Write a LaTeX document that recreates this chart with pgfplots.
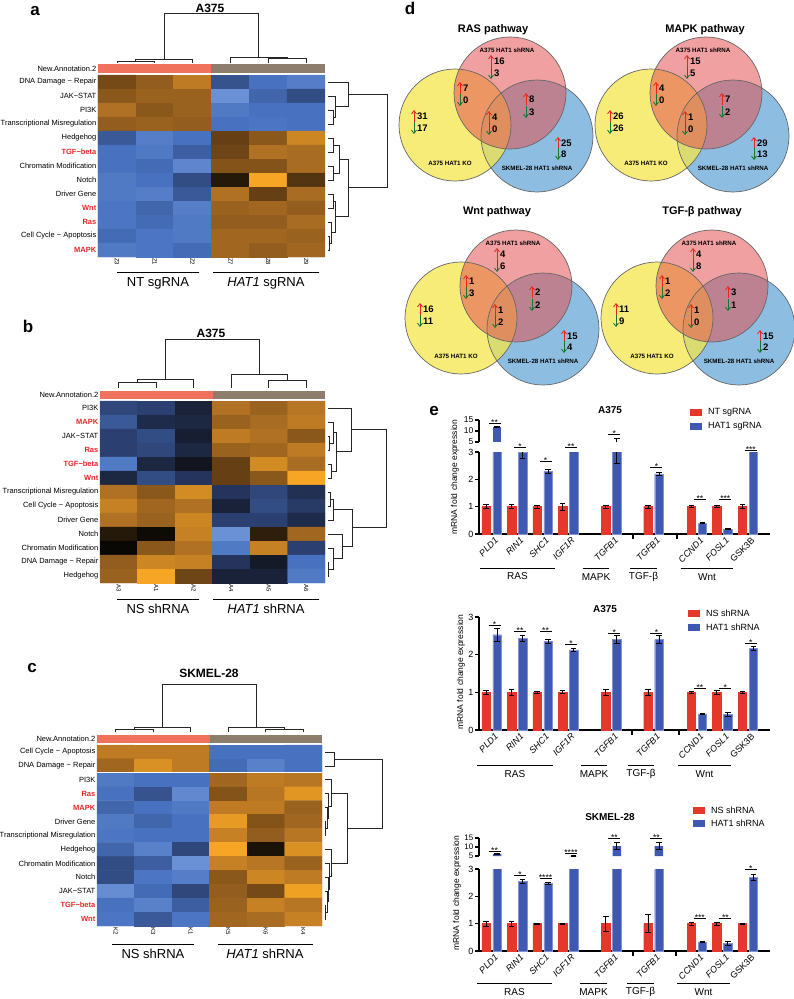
\documentclass[border=0pt]{standalone}
\usepackage{fontspec}
\setmainfont{Liberation Sans}
\usepackage{pgfplots}
\usepackage{pgfplotstable}
\pgfplotsset{compat=1.18}
\usetikzlibrary{arrows.meta}

\definecolor{annL}{RGB}{241,114,92}
\definecolor{annR}{RGB}{141,125,108}
\definecolor{lblred}{RGB}{232,38,38}
\definecolor{barR}{RGB}{229,56,42}
\definecolor{barB}{RGB}{63,89,178}
\definecolor{vY}{RGB}{245,229,75}
\definecolor{vR}{RGB}{228,82,82}
\definecolor{vB}{RGB}{141,190,225}
\definecolor{upR}{RGB}{232,40,30}
\definecolor{dnG}{RGB}{22,118,48}

\newcommand\fs[1]{\fontsize{#1}{#1}\selectfont}
\newcommand\rl[1]{\textcolor{lblred}{\bfseries #1}}
\tikzset{dg/.style={line width=0.7pt, black!85}}
% dendrogram joins (column: x1 h1 x2 h2 h ; row: y1 d1 y2 d2 d)
\newcommand\cj[5]{\draw[dg] (axis cs:#1,#2) |- (axis cs:#3,#5) -- (axis cs:#3,#4);}
\newcommand\rj[5]{\draw[dg] (axis cs:#2,#1) -| (axis cs:#5,#3) -- (axis cs:#4,#3);}
\newcommand\annot[1]{%
  \fill[annL] (axis cs:-0.5,0.64) rectangle (axis cs:2.5,#1);
  \fill[annR] (axis cs:2.5,0.64) rectangle (axis cs:5.5,#1);
  \node[anchor=east, font=\fs{7.5}, inner sep=1.5pt] at (axis cs:-0.5,0.95) {New.Annotation.2};}
% venn pieces
\tikzset{varr/.style={line width=0.85pt, -{Straight Barb[length=3.2pt,width=5pt,line width=0.85pt]}}}
\newcommand\vp[5]{%
  \draw[upR, varr] ([yshift=-6pt]axis cs:#1,-#2) -- ([yshift=6pt]axis cs:#1,-#2);
  \node[anchor=west, inner sep=0pt, font=\bfseries\fs{9.5}] at ([xshift=3pt]axis cs:#1,-#2) {#4};
  \draw[dnG, varr] ([yshift=6pt]axis cs:#1,-#3) -- ([yshift=-6pt]axis cs:#1,-#3);
  \node[anchor=west, inner sep=0pt, font=\bfseries\fs{9.5}] at ([xshift=3pt]axis cs:#1,-#3) {#5};}
\newcommand\venncore{%
  \fill[vB] (axis cs:537,-136) circle[radius=56];
  \fill[vY, fill opacity=0.75] (axis cs:455,-125) circle[radius=56];
  \fill[vR, fill opacity=0.55] (axis cs:510,-93) circle[radius=56];
  \draw[black!60, line width=0.7pt] (axis cs:537,-136) circle[radius=56];
  \draw[black!60, line width=0.7pt] (axis cs:455,-125) circle[radius=56];
  \draw[black!60, line width=0.7pt] (axis cs:510,-93) circle[radius=56];
  \node[font=\bfseries\fs{6.2}] at (axis cs:507,-50) {A375 HAT1 shRNA};
  \node[font=\bfseries\fs{6.2}] at (axis cs:450,-163) {A375 HAT1 KO};
  \node[font=\bfseries\fs{6.2}] at (axis cs:537,-168) {SKMEL-28 HAT1 shRNA};}
% significance bar
\newcommand\sg[3]{\draw[line width=0.75pt] ([xshift=-3pt]axis cs:#1,#2) -- ([xshift=9pt]axis cs:#1,#2) node[midway, above, yshift=-3.5pt, inner sep=1pt, font=\fs{8.5}] {#3};}
\newcommand\lgd[4]{\fill[#1] (#2,{-#3+3}) rectangle ({#2+12},{-#3-3.5}); \node[anchor=west, font=\fs{9}, inner sep=0pt] at ({#2+18},-#3) {#4};}
\newcommand\gl[5]{\draw[line width=0.9pt] (#1,-#3) -- (#2,-#3); \node[font=\fs{10}] at ({(#1+#2)/2},-#4) {#5};}

\pgfplotsset{
  hm/.style={
    scale only axis, xmin=-0.5, xmax=5.5, ymin=-12.5, ymax=0.5,
    clip=false, axis line style={draw=none}, tick style={draw=none},
    colormap={bbo}{rgb255=(115,152,218) rgb255=(72,114,192) rgb255=(36,52,92) rgb255=(10,8,5) rgb255=(102,64,20) rgb255=(176,113,36) rgb255=(246,166,36)},
    point meta min=-3, point meta max=3,
    xtick={0,...,5}, ytick={-12,...,0},
    xticklabel style={rotate=-90, anchor=west, font=\fs{6}, inner sep=1pt},
    yticklabel style={font=\fs{7.5}, inner sep=1.5pt},
    anchor=south west,
  },
  vn/.style={x=1pt, y=1pt, xmin=395, xmax=600, ymin=-200, ymax=0,
    hide axis, clip=false, anchor=north west},
  eb/.style={
    scale only axis, width=291pt, xmin=-0.49, xmax=10.92, anchor=south west,
    ybar, bar width=8.5pt, clip mode=individual,
    axis y line*=left, axis line style={line width=1.2pt},
    tick align=outside, major tick length=4pt,
    y tick style={line width=1.2pt, black},
    yticklabel style={font=\fs{9}, inner sep=1.5pt},
    /pgf/number format/assume math mode=true,
    error bars/y dir=both, error bars/y explicit,
    error bars/error bar style={line width=0.8pt, draw=black},
    error bars/error mark options={rotate=90, mark size=2.8pt, line width=0.8pt, draw=black},
  },
  eblow/.style={eb, axis x line*=bottom, ymin=0, ymax=3, ytick={0,1,2,3},
    xtick={0,1,2,3,4.7,6.35,8.05,9.05,10.05},
    xticklabels={\textit{PLD1},\textit{RIN1},\textit{SHC1},\textit{IGF1R},\textit{TGFB1},\textit{TGFB1},\textit{CCND1},\textit{FOSL1},GSK3B},
    x tick style={draw=none},
    xticklabel style={rotate=45, anchor=north east, font=\fs{9}, inner sep=1pt, xshift=4pt},
  },
  ebup/.style={eb, axis x line=none, ymin=5, ymax=15, ytick={5,10,15},
    yticklabel style={font=\fs{8.5}, inner sep=1.5pt}},
}

\pgfplotstableread{
x nt nte ht hte
0 1 0.08 11.8 0.3
1 1 0.07 3.0 0.22
2 1 0.05 2.3 0.07
3 1 0.13 4.2 0.3
4.7 1 0.05 4.7 2.1
6.35 1 0.06 2.2 0.05
8.05 1 0.03 0.40 0.02
9.05 1 0.03 0.18 0.02
10.05 1 0.07 4.2 0.2
}\eA
\pgfplotstableread{
x nt nte ht hte
0 1 0.05 2.53 0.17
1 1 0.07 2.43 0.07
2 1 0.03 2.35 0.06
3 1 0.04 2.13 0.04
4.7 1 0.07 2.40 0.10
6.35 1 0.07 2.40 0.10
8.05 1 0.02 0.43 0.01
9.05 1 0.05 0.42 0.06
10.05 1 0.02 2.17 0.05
}\eB
\pgfplotstableread{
x nt nte ht hte
0 1 0.10 6.2 0.2
1 1 0.10 2.55 0.07
2 1 0.02 2.48 0.03
3 1 0.02 5.0 0.1
4.7 1 0.27 10.5 1.8
6.35 1 0.33 10.5 2.0
8.05 1 0.05 0.33 0.03
9.05 1 0.05 0.28 0.08
10.05 1 0.02 2.70 0.12
}\eC

\begin{document}
\begin{tikzpicture}[x=1pt, y=1pt]
\path[use as bounding box] (0,0) rectangle (793,-999);

% panel letters
\node[font=\bfseries\fs{17}] at (35,-11) {a};
\node[font=\bfseries\fs{17}] at (28,-326) {b};
\node[font=\bfseries\fs{17}] at (32,-668) {c};
\node[font=\bfseries\fs{17}] at (410,-8) {d};
\node[font=\bfseries\fs{17}] at (434,-411) {e};

% ---------- a ----------
\node[font=\bfseries\fs{12}] at (210,-8) {A375};
\begin{axis}[hm, at={(98pt,-257pt)}, width=227pt, height=182pt,
  xticklabels={Z3,Z1,Z2,Z7,Z8,Z9},
  yticklabels={\rl{MAPK},Cell Cycle − Apoptosis,\rl{Ras},\rl{Wnt},Driver Gene,Notch,Chromatin Modification,\rl{TGF−beta},Hedgehog,Transcriptional Misregulation,PI3K,JAK−STAT,DNA Damage − Repair}]
\addplot[matrix plot*, mesh/cols=6, point meta=explicit] coordinates {
(0,0)[1.2] (1,0)[1.6] (2,0)[2.2] (3,0)[-1.5] (4,0)[-2.0] (5,0)[-2.3]
(0,-1)[1.5] (1,-1)[1.7] (2,-1)[1.7] (3,-1)[-2.8] (4,-1)[-1.8] (5,-1)[-1.4]
(0,-2)[2.0] (1,-2)[1.5] (2,-2)[1.7] (3,-2)[-2.2] (4,-2)[-2.0] (5,-2)[-2.0]
(0,-3)[1.6] (1,-3)[1.7] (2,-3)[1.6] (3,-3)[-2.0] (4,-3)[-2.1] (5,-3)[-2.0]
(0,-4)[-1.6] (1,-4)[-2.3] (2,-4)[-2.0] (3,-4)[1.0] (4,-4)[1.5] (5,-4)[2.4]
(0,-5)[-2.0] (1,-5)[-2.2] (2,-5)[-1.7] (3,-5)[1.1] (4,-5)[2.0] (5,-5)[1.9]
(0,-6)[-2.0] (1,-6)[-1.9] (2,-6)[-2.5] (3,-6)[1.4] (4,-6)[1.4] (5,-6)[1.9]
(0,-7)[-2.2] (1,-7)[-2.0] (2,-7)[-1.4] (3,-7)[0.3] (4,-7)[3.0] (5,-7)[0.8]
(0,-8)[-2.2] (1,-8)[-2.3] (2,-8)[-1.6] (3,-8)[2.0] (4,-8)[1.0] (5,-8)[1.9]
(0,-9)[-2.1] (1,-9)[-1.8] (2,-9)[-2.3] (3,-9)[1.7] (4,-9)[1.8] (5,-9)[1.6]
(0,-10)[-2.1] (1,-10)[-1.9] (2,-10)[-2.2] (3,-10)[1.6] (4,-10)[1.6] (5,-10)[1.9]
(0,-11)[-1.9] (1,-11)[-2.1] (2,-11)[-2.2] (3,-11)[1.8] (4,-11)[1.8] (5,-11)[1.7]
(0,-12)[-2.2] (1,-12)[-2.1] (2,-12)[-1.9] (3,-12)[1.8] (4,-12)[1.6] (5,-12)[1.8]
};
\annot{1.29}
\cj{0}{1.33}{1}{1.33}{1.5}
\cj{0.5}{1.5}{2}{1.33}{1.64}
\cj{4}{1.33}{5}{1.33}{1.71}
\cj{3}{1.33}{4.5}{1.71}{1.79}
\cj{1.25}{1.64}{3.75}{1.79}{4.93}
\rj{-2}{5.58}{-3}{5.58}{5.72}
\rj{-1}{5.58}{-2.5}{5.72}{5.77}
\rj{0}{5.58}{-1.75}{5.77}{6.11}
\rj{-4}{5.58}{-5}{5.58}{5.72}
\rj{-6}{5.58}{-7}{5.58}{5.72}
\rj{-4.5}{5.72}{-6.5}{5.72}{5.88}
\rj{-8}{5.58}{-9}{5.58}{5.72}
\rj{-11}{5.58}{-12}{5.58}{5.62}
\rj{-10}{5.58}{-11.5}{5.62}{5.66}
\rj{-8.5}{5.72}{-10.75}{5.66}{5.77}
\rj{-5.5}{5.88}{-9.625}{5.77}{6.11}
\rj{-0.875}{6.11}{-7.56}{6.11}{7.15}
\end{axis}
\draw[line width=0.8pt] (117,-272) -- (199,-272) (213,-272) -- (319,-272);
\node[font=\fs{13}] at (158,-283) {NT sgRNA};
\node[font=\fs{13}] at (266,-283) {\textit{HAT1} sgRNA};

% ---------- b ----------
\node[font=\bfseries\fs{12}] at (211,-333) {A375};
\begin{axis}[hm, at={(100pt,-583pt)}, width=225pt, height=182pt,
  xticklabels={A3,A1,A2,A4,A5,A6},
  yticklabels={Hedgehog,DNA Damage − Repair,Chromatin Modification,Notch,Driver Gene,Cell Cycle − Apoptosis,Transcriptional Misregulation,\rl{Wnt},\rl{TGF−beta},\rl{Ras},JAK−STAT,\rl{MAPK},PI3K}]
\addplot[matrix plot*, mesh/cols=6, point meta=explicit] coordinates {
(0,0)[-1.3] (1,0)[-1.2] (2,0)[-0.6] (3,0)[2.0] (4,0)[1.7] (5,0)[2.1]
(0,-1)[-1.6] (1,-1)[-0.8] (2,-1)[-0.7] (3,-1)[1.7] (4,-1)[1.9] (5,-1)[2.2]
(0,-2)[-1.2] (1,-2)[-1.4] (2,-2)[-0.5] (3,-2)[2.2] (4,-2)[2.0] (5,-2)[1.5]
(0,-3)[-1.2] (1,-3)[-1.3] (2,-3)[-0.7] (3,-3)[1.7] (4,-3)[1.8] (5,-3)[2.2]
(0,-4)[-2.2] (1,-4)[-0.7] (2,-4)[-0.3] (3,-4)[1.0] (4,-4)[2.5] (5,-4)[1.9]
(0,-5)[-0.7] (1,-5)[-1.4] (2,-5)[-1.0] (3,-5)[1.0] (4,-5)[1.5] (5,-5)[3.0]
(0,-6)[2.0] (1,-6)[1.5] (2,-6)[2.5] (3,-6)[-1.0] (4,-6)[-1.3] (5,-6)[-0.9]
(0,-7)[2.3] (1,-7)[1.8] (2,-7)[2.0] (3,-7)[-0.6] (4,-7)[-1.4] (5,-7)[-1.1]
(0,-8)[2.0] (1,-8)[1.7] (2,-8)[2.4] (3,-8)[-1.2] (4,-8)[-1.2] (5,-8)[-0.8]
(0,-9)[0.3] (1,-9)[0.05] (2,-9)[2.3] (3,-9)[-2.8] (4,-9)[0.4] (5,-9)[1.8]
(0,-10)[0.0] (1,-10)[1.5] (2,-10)[2.0] (3,-10)[-2.2] (4,-10)[2.3] (5,-10)[-1.2]
(0,-11)[1.6] (1,-11)[2.4] (2,-11)[2.3] (3,-11)[-1.0] (4,-11)[-0.4] (5,-11)[-2.0]
(0,-12)[1.7] (1,-12)[3.0] (2,-12)[1.1] (3,-12)[-0.6] (4,-12)[-0.6] (5,-12)[-2.2]
};
\annot{1.21}
\cj{0}{1.43}{1}{1.43}{1.86}
\cj{0.5}{1.86}{2}{1.43}{2.07}
\cj{4}{1.43}{5}{1.43}{2.0}
\cj{3}{1.43}{4.5}{2.0}{2.43}
\cj{1.25}{2.07}{3.75}{2.43}{4.93}
\rj{-2}{5.58}{-3}{5.58}{5.62}
\rj{-1}{5.58}{-2.5}{5.62}{5.72}
\rj{-4}{5.58}{-5}{5.58}{5.66}
\rj{-1.75}{5.72}{-4.5}{5.66}{5.80}
\rj{0}{5.58}{-3.125}{5.80}{6.2}
\rj{-6}{5.58}{-7}{5.58}{5.65}
\rj{-6.5}{5.65}{-8}{5.58}{5.72}
\rj{-11}{5.58}{-12}{5.58}{5.6}
\rj{-10}{5.58}{-11.5}{5.6}{5.72}
\rj{-9}{5.58}{-10.75}{5.72}{5.95}
\rj{-7.25}{5.72}{-9.875}{5.95}{6.22}
\rj{-1.56}{6.2}{-8.56}{6.22}{7.13}
\end{axis}
\draw[line width=0.8pt] (117,-599) -- (199,-599) (213,-599) -- (319,-599);
\node[font=\fs{13}] at (158,-609) {NS shRNA};
\node[font=\fs{13}] at (266,-609) {\textit{HAT1} shRNA};

% ---------- c ----------
\node[font=\bfseries\fs{12}] at (209,-673) {SKMEL-28};
\begin{axis}[hm, at={(97pt,-926pt)}, width=225pt, height=181pt,
  xticklabels={K2,K3,K1,K5,K6,K4},
  yticklabels={\rl{Wnt},\rl{TGF−beta},JAK−STAT,Notch,Chromatin Modification,Hedgehog,Transcriptional Misregulation,Driver Gene,\rl{MAPK},\rl{Ras},PI3K,DNA Damage − Repair,Cell Cycle − Apoptosis}]
\addplot[matrix plot*, mesh/cols=6, point meta=explicit] coordinates {
(0,0)[2.2] (1,0)[2.2] (2,0)[2.2] (3,0)[-2.0] (4,0)[-2.0] (5,0)[-2.0]
(0,-1)[1.8] (1,-1)[2.6] (2,-1)[2.2] (3,-1)[-1.9] (4,-1)[-2.4] (5,-1)[-2.0]
(0,-2)[-2.2] (1,-2)[-2.0] (2,-2)[-2.0] (3,-2)[1.8] (4,-2)[2.2] (5,-2)[2.1]
(0,-3)[-2.0] (1,-3)[-1.5] (2,-3)[-2.6] (3,-3)[1.4] (4,-3)[2.1] (5,-3)[2.7]
(0,-4)[-1.8] (1,-4)[-2.0] (2,-4)[-2.2] (3,-4)[2.2] (4,-4)[2.2] (5,-4)[1.7]
(0,-5)[-2.2] (1,-5)[-1.8] (2,-5)[-2.0] (3,-5)[2.8] (4,-5)[1.4] (5,-5)[1.8]
(0,-6)[-2.1] (1,-6)[-2.0] (2,-6)[-2.0] (3,-6)[2.3] (4,-6)[1.6] (5,-6)[2.1]
(0,-7)[-1.8] (1,-7)[-2.4] (2,-7)[-1.3] (3,-7)[3.0] (4,-7)[0.2] (5,-7)[2.6]
(0,-8)[-1.4] (1,-8)[-1.7] (2,-8)[-2.8] (3,-8)[2.3] (4,-8)[2.1] (5,-8)[1.7]
(0,-9)[-1.4] (1,-9)[-2.1] (2,-9)[-2.3] (3,-9)[1.5] (4,-9)[2.4] (5,-9)[2.2]
(0,-10)[-2.7] (1,-10)[-1.9] (2,-10)[-1.3] (3,-10)[1.6] (4,-10)[1.2] (5,-10)[2.9]
(0,-11)[-2.0] (1,-11)[-2.4] (2,-11)[-1.7] (3,-11)[1.7] (4,-11)[2.3] (5,-11)[2.1]
(0,-12)[-2.1] (1,-12)[-1.6] (2,-12)[-2.1] (3,-12)[1.8] (4,-12)[1.9] (5,-12)[2.3]
};
\draw[white, line width=1.2pt] (axis cs:-0.5,-1.5) -- (axis cs:5.5,-1.5);
\annot{1.21}
\cj{0}{1.43}{1}{1.43}{1.64}
\cj{0.5}{1.64}{2}{1.43}{1.79}
\cj{4}{1.43}{5}{1.43}{1.64}
\cj{3}{1.43}{4.5}{1.64}{1.79}
\cj{1.25}{1.79}{3.75}{1.79}{4.86}
\rj{0}{5.58}{-1}{5.58}{5.82}
\rj{-5}{5.58}{-6}{5.58}{5.6}
\rj{-4}{5.58}{-5.5}{5.6}{5.63}
\rj{-3}{5.58}{-4.75}{5.63}{5.66}
\rj{-2}{5.58}{-3.875}{5.66}{5.76}
\rj{-11}{5.58}{-12}{5.58}{5.6}
\rj{-10}{5.58}{-11.5}{5.6}{5.63}
\rj{-9}{5.58}{-10.75}{5.63}{5.66}
\rj{-8}{5.58}{-9.875}{5.66}{5.7}
\rj{-7}{5.58}{-8.94}{5.7}{5.76}
\rj{-2.94}{5.76}{-7.97}{5.76}{6.17}
\rj{-0.5}{5.82}{-5.45}{6.17}{7.1}
\end{axis}
\draw[line width=0.8pt] (112,-944) -- (194,-944) (218,-944) -- (313,-944);
\node[font=\fs{13}] at (153,-954) {NS shRNA};
\node[font=\fs{13}] at (265,-954) {\textit{HAT1} shRNA};

% ---------- d ----------
\node[font=\bfseries\fs{11}] at (493,-30) {RAS pathway};
\node[font=\bfseries\fs{11}] at (705,-30) {MAPK pathway};
\node[font=\bfseries\fs{11}] at (497,-212) {Wnt pathway};
\node[font=\bfseries\fs{11}] at (702,-212) {TGF-β pathway};
\begin{axis}[vn, at={(395pt,0pt)}]
\venncore
\vp{491}{61}{73}{16}{3}
\vp{460}{88}{100}{7}{0}
\vp{489}{117}{129}{4}{0}
\vp{526}{99}{112}{8}{3}
\vp{414}{116}{128}{31}{17}
\vp{558}{143}{154}{25}{8}
\end{axis}
\begin{axis}[vn, at={(591pt,0pt)}]
\venncore
\vp{491}{61}{73}{15}{5}
\vp{460}{88}{100}{4}{0}
\vp{489}{117}{129}{1}{0}
\vp{526}{99}{112}{7}{2}
\vp{414}{116}{128}{26}{26}
\vp{558}{143}{154}{29}{13}
\end{axis}
\begin{axis}[vn, at={(401pt,-193pt)}]
\venncore
\vp{491}{61}{73}{4}{6}
\vp{460}{88}{100}{1}{3}
\vp{489}{117}{129}{1}{2}
\vp{526}{99}{112}{2}{2}
\vp{414}{116}{128}{16}{11}
\vp{558}{143}{154}{15}{4}
\end{axis}
\begin{axis}[vn, at={(597pt,-193pt)}]
\venncore
\vp{491}{61}{73}{4}{8}
\vp{460}{88}{100}{1}{2}
\vp{489}{117}{129}{1}{0}
\vp{526}{99}{112}{3}{1}
\vp{414}{116}{128}{11}{9}
\vp{558}{143}{154}{15}{2}
\end{axis}

% ---------- e: A375 sgRNA ----------
\node[font=\bfseries\fs{10}] at (610,-410) {A375};
\lgd{barR}{690}{412}{NT sgRNA}
\lgd{barB}{690}{426}{HAT1 sgRNA}
\node[rotate=90, font=\fs{8.5}] at (455,-477) {mRNA fold change expression};
\begin{axis}[eblow, at={(479pt,-534pt)}, height=82pt]
\addplot[fill=barR, draw=barR, bar shift=-5.5pt] table[x=x, y=nt, y error=nte] {\eA};
\addplot[fill=barB, draw=barB!65!white, bar shift=5.5pt] table[x=x, y=ht, y error=hte] {\eA};
\sg{1}{3.18}{*}
\sg{2}{2.64}{*}
\sg{3}{3.18}{**}
\sg{6.35}{2.45}{*}
\sg{8.05}{1.25}{**}
\sg{9.05}{1.25}{***}
\sg{10.05}{3.07}{***}
\end{axis}
\begin{axis}[ebup, at={(479pt,-442pt)}, height=22pt]
\addplot[fill=barB, draw=none, bar shift=5.5pt, y filter/.expression={y<5 ? nan : y}] table[x=x, y=ht, y error=hte] {\eA};
% upper part of the TGFB1 (MAPK) error bar, value 4.7 +- 2.1
\draw[line width=0.8pt] ([xshift=5.5pt]axis cs:4.7,5) -- ([xshift=5.5pt]axis cs:4.7,6.8);
\draw[line width=0.8pt] ([xshift=2.7pt]axis cs:4.7,6.8) -- ([xshift=8.3pt]axis cs:4.7,6.8);
\sg{0}{13.6}{**}
\sg{4.7}{8.6}{*}
\end{axis}
\draw[line width=1.1pt] (633,-534) -- (633,-539) (677,-534) -- (677,-539);
\gl{480}{555}{568}{576}{RAS}
\gl{583}{609}{568}{577}{MAPK}
\gl{630}{657}{568}{577}{TGF-β}
\gl{681}{733}{568}{577}{Wnt}

% ---------- e: A375 shRNA ----------
\node[font=\bfseries\fs{10}] at (605,-609) {A375};
\lgd{barR}{688}{613}{NS shRNA}
\lgd{barB}{688}{627}{HAT1 shRNA}
\node[rotate=90, font=\fs{8.5}] at (461,-672) {mRNA fold change expression};
\begin{axis}[eblow, at={(479pt,-730pt)}, height=113pt]
\addplot[fill=barR, draw=barR, bar shift=-5.5pt] table[x=x, y=nt, y error=nte] {\eB};
\addplot[fill=barB, draw=barB!65!white, bar shift=5.5pt] table[x=x, y=ht, y error=hte] {\eB};
\sg{0}{2.78}{*}
\sg{1}{2.63}{**}
\sg{2}{2.63}{**}
\sg{3}{2.28}{*}
\sg{4.7}{2.57}{*}
\sg{6.35}{2.57}{*}
\sg{8.05}{1.11}{**}
\sg{9.05}{1.11}{*}
\sg{10.05}{2.31}{*}
\end{axis}
\draw[line width=1.1pt] (632,-730) -- (632,-735) (679,-730) -- (679,-735);
\gl{477}{553}{765}{774}{RAS}
\gl{581}{607}{765}{774}{MAPK}
\gl{628}{654}{765}{774}{TGF-β}
\gl{678}{731}{765}{774}{Wnt}

% ---------- e: SKMEL-28 ----------
\node[font=\bfseries\fs{10}] at (610,-817) {SKMEL-28};
\lgd{barR}{693}{810}{NS shRNA}
\lgd{barB}{693}{823}{HAT1 shRNA}
\node[rotate=90, font=\fs{8.5}] at (457,-893) {mRNA fold change expression};
\begin{axis}[eblow, at={(479pt,-951pt)}, height=82pt]
\addplot[fill=barR, draw=barR, bar shift=-5.5pt] table[x=x, y=nt, y error=nte] {\eC};
\addplot[fill=barB, draw=barB!65!white, bar shift=5.5pt] table[x=x, y=ht, y error=hte] {\eC};
\sg{1}{2.78}{*}
\sg{2}{2.64}{****}
\sg{8.05}{1.2}{***}
\sg{9.05}{1.2}{**}
\sg{10.05}{3.0}{*}
\end{axis}
\begin{axis}[ebup, at={(479pt,-856pt)}, height=18pt, yticklabel style={font=\fs{8}}]
\addplot[fill=barB, draw=none, bar shift=5.5pt, y filter/.expression={y<5 ? nan : y}] table[x=x, y=ht, y error=hte] {\eC};
\sg{0}{7.4}{**}
\sg{3}{6.4}{****}
\sg{4.7}{15}{**}
\sg{6.35}{15}{**}
\end{axis}
\draw[line width=1.1pt] (633,-951) -- (633,-956) (676,-951) -- (676,-956);
\gl{477}{552}{983}{992}{RAS}
\gl{580}{607}{983}{992}{MAPK}
\gl{627}{654}{983}{992}{TGF-β}
\gl{677}{730}{983}{992}{Wnt}
\end{tikzpicture}
\end{document}
